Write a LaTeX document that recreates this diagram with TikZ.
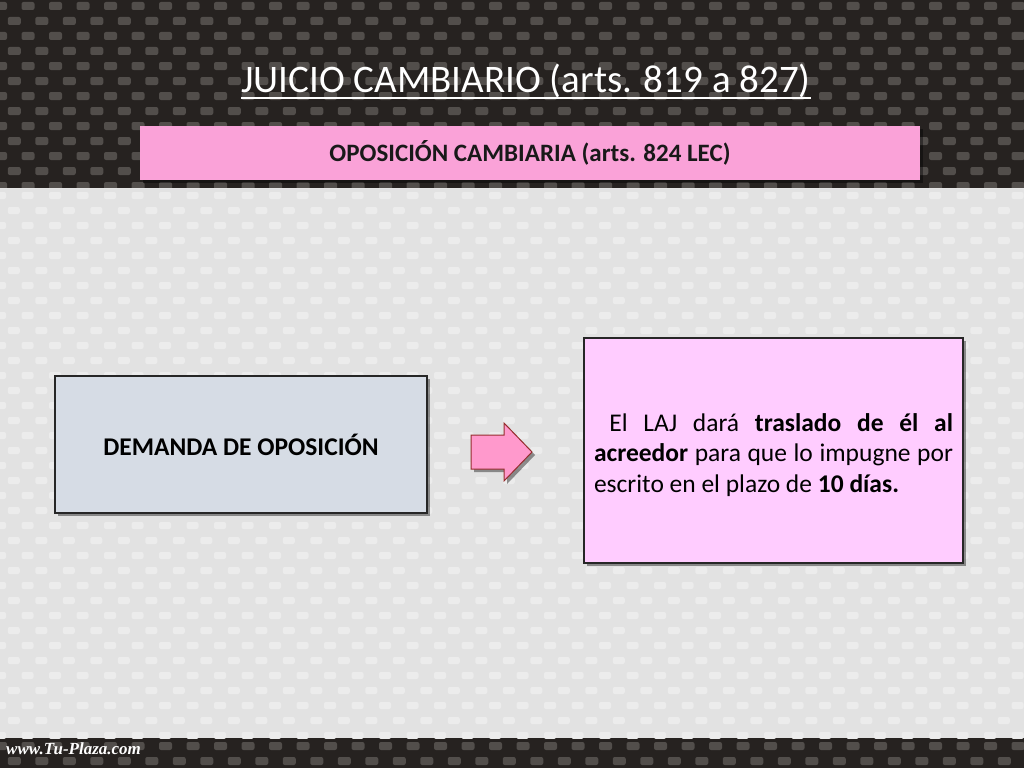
\documentclass[tikz,border=0pt]{standalone}
\usepackage{fontspec}
\setmainfont{Carlito}
\newfontfamily\logofont{Liberation Serif}
\usetikzlibrary{shadows,shapes.arrows,calc}
\definecolor{darkbg}{RGB}{38,34,32}
\definecolor{darksq}{RGB}{82,78,75}
\definecolor{lightbg}{RGB}{226,226,226}
\definecolor{lightsq}{RGB}{236,236,236}
\definecolor{headpink}{RGB}{250,162,216}
\definecolor{greyblue}{RGB}{214,220,229}
\definecolor{lilac}{RGB}{255,204,255}
\definecolor{arrowpink}{RGB}{255,153,204}
\definecolor{arrowedge}{RGB}{150,45,45}
\tikzset{
  boxshadow/.style={drop shadow={shadow xshift=3pt,shadow yshift=-3pt,opacity=0.4,fill=black}},
  mainbox/.style={draw=black!85,line width=1.5pt,inner sep=0pt,boxshadow},
}
\begin{document}
\begin{tikzpicture}[x=1pt,y=-1pt]
\useasboundingbox (0,0) rectangle (1024,768);
% backgrounds
\fill[darkbg] (0,0) rectangle (1024,188);
\fill[lightbg] (0,188) rectangle (1024,738);
\fill[darkbg] (0,738) rectangle (1024,768);
\begin{scope}
\clip (0,0) rectangle (1024,187);
\foreach \r in {0,...,12}{
  \foreach \c in {0,...,37}{
    \fill[darksq,rounded corners=2pt] ({\c*27.5+mod(\r,2)*13.75-6},{\r*15+2}) rectangle ++(13,8);
  }
}
\end{scope}
\foreach \r in {0,...,1}{
  \foreach \c in {0,...,37}{
    \fill[darksq,rounded corners=2pt] ({\c*27.5+mod(\r,2)*13.75-6},{740+\r*15+2}) rectangle ++(13,8);
  }
}
\begin{scope}
\clip (0,189) rectangle (1024,738);
\foreach \r in {0,...,36}{
  \foreach \c in {0,...,37}{
    \fill[lightsq,rounded corners=2pt] ({\c*27.5+mod(\r,2)*13.75-6},{190+\r*15+2}) rectangle ++(12,7);
  }
}
\end{scope}
\draw[white!80!gray,line width=1pt] (0,188.5) -- (1024,188.5);
% title
\node[text=white,font=\fontsize{39}{45}\selectfont,anchor=base,inner sep=0pt] (title) at (526,92) {JUICIO CAMBIARIO (arts. 819 a 827)};
\draw[white,line width=1.6pt] ($(title.base west)+(0,6)$) -- ($(title.base east)+(0,6)$);
% header box
\node[fill=headpink,boxshadow,minimum width=780pt,minimum height=54pt,inner sep=0pt,
      font=\fontsize{25}{30}\bfseries\selectfont,text=black!90] (head) at (530,153) {OPOSICIÓN CAMBIARIA (arts. 824 LEC)};
% left box
\node[mainbox,fill=greyblue,minimum width=372pt,minimum height=137pt,
      font=\fontsize{25.5}{30}\bfseries\selectfont] (dem) at (241,444.5) {DEMANDA DE OPOSICIÓN};
% right box
\node[mainbox,fill=lilac,minimum width=379pt,minimum height=225pt] (resp) at (773.5,450.5) {};
\node[text width=359pt,inner sep=0pt,align=justify,font=\fontsize{25.5}{30.5}\selectfont,anchor=base] (resptext) at (773.5,431)
  {\hspace*{0.6em}El LAJ dará \textbf{traslado de él al}\linebreak \textbf{acreedor} para que lo impugne por\linebreak escrito en el plazo de \textbf{10 días.}};
% arrow
\node[single arrow,draw=arrowedge,line width=1pt,fill=arrowpink,boxshadow,
      minimum height=61pt,minimum width=57pt,inner sep=0pt,inner ysep=16.5pt,
      single arrow head extend=12pt,single arrow tip angle=92] (arr) at (493.3,452) {};
% logo
\node[text=white,font=\logofont\bfseries\itshape\fontsize{17}{20}\selectfont,anchor=base west,inner sep=0pt] (logo) at (6,754) {www.Tu-Plaza.com};
\end{tikzpicture}
\end{document}
